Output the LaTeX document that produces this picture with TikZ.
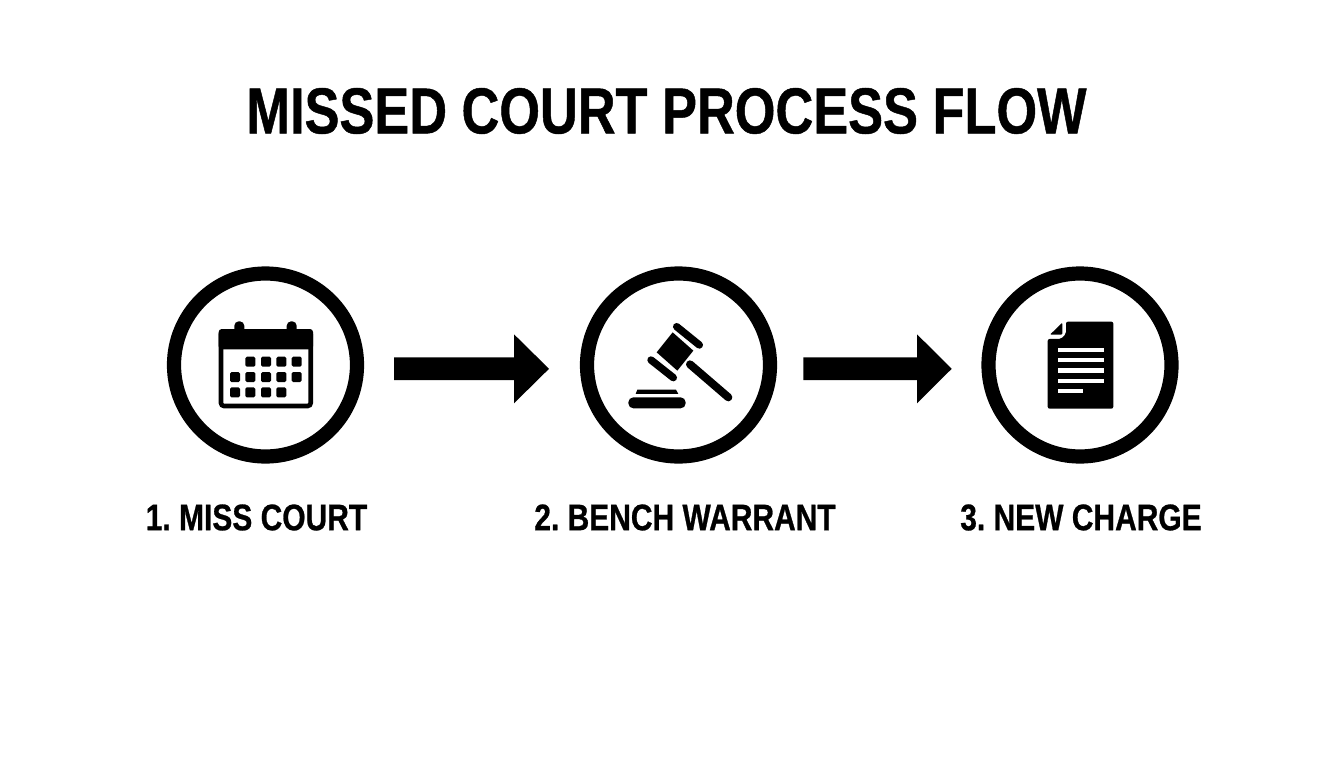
\documentclass[tikz,border=0pt]{standalone}
\usepackage{fontspec}
\setmainfont{Liberation Sans}
\newfontfamily\hd{Liberation Sans}[BoldFont={Liberation Sans Bold},BoldFeatures={FakeStretch=0.81,FakeBold=0.7}]
\newfontfamily\hdt{Liberation Sans}[BoldFont={Liberation Sans Bold},BoldFeatures={FakeStretch=0.805,FakeBold=0.7}]
\frenchspacing
\begin{document}
\begin{tikzpicture}[x=1pt,y=-1pt,
  ring/.style={circle,draw=black,line width=14.2pt,minimum size=183pt,inner sep=0pt},
  flowarrow/.style={fill=black},
  lab/.style={font=\hd\bfseries\fontsize{37}{40}\selectfont,text=black,inner sep=0pt},
  ttl/.style={font=\hdt\bfseries\fontsize{65}{68}\selectfont,text=black,inner sep=0pt}]
\useasboundingbox (0,0) rectangle (1344,768);
\fill[white] (0,0) rectangle (1344,768);
\node[ttl] (title) at (666.5,111) {MISSED COURT PROCESS FLOW};
\node[ring] (c1) at (265.5,365) {};
\node[ring] (c2) at (678.5,365) {};
\node[ring] (c3) at (1080,365) {};
\node[lab] (l1) at (256.5,517.5) {1. MISS COURT};
\node[lab] (l2) at (685,517.5) {2. BENCH WARRANT};
\node[lab] (l3) at (1081,517.5) {3. NEW CHARGE};
% arrows
\fill[flowarrow] (394,357.3) -- (514,357.3) -- (514,334.3) -- (549,368.8) -- (514,403.3) -- (514,380.2) -- (394,380.2) -- cycle;
\fill[flowarrow] (803.3,357.3) -- (917,357.3) -- (917,334.3) -- (951.7,368.8) -- (917,403.3) -- (917,380.2) -- (803.3,380.2) -- cycle;
% calendar
\draw[black,line width=4.6pt,rounded corners=3pt] (221,331.3) rectangle (310.7,406);
\fill[black,rounded corners=3pt] (218.7,329) -- (313,329) -- (313,349.3) -- (218.7,349.3) -- cycle;
\fill[black,rounded corners=4.5pt] (234.3,321.3) rectangle (244.3,335);
\fill[black,rounded corners=4.5pt] (286.7,321.3) rectangle (296.7,335);
\foreach \p in {250.3,266,281.3,296.7} \fill[black,rounded corners=1.5pt] (\p-5,356.7) rectangle (\p+5,366.7);
\foreach \p in {235,250.3,266,281.3,296.7} \fill[black,rounded corners=1.5pt] (\p-5,372) rectangle (\p+5,382);
\foreach \p in {235,250.3,266,281.3} \fill[black,rounded corners=1.5pt] (\p-5,387.3) rectangle (\p+5,397.3);
% gavel
\begin{scope}[shift={(640,315)},x=0.3333pt,y=-0.3333pt]
\draw[black,line width=7.4pt,line cap=round] (110,35) -- (178,90);
\draw[black,line width=7.4pt,line cap=round] (33,135) -- (100,188);
\fill[black] (98,52) -- (160,107) -- (112,167) -- (50,112) -- cycle;
\draw[black,line width=8pt,line cap=round] (150,148) -- (265,247);
\fill[black] (-13,237) -- (-8,224) -- (108,224) -- (115,237) -- cycle;
\fill[black,rounded corners=5pt] (-35,247) rectangle (137,280);
\end{scope}
% document
\begin{scope}[shift={(975,260)},x=0.3333pt,y=-0.3333pt]
\fill[black,rounded corners=2pt] (273,185) -- (415,185) -- (415,446) -- (218,446) -- (218,237) -- (258,237) -- (273,222) -- cycle;
\fill[black,rounded corners=1pt] (225,224) -- (262,188) -- (262,224) -- cycle;
\foreach \q in {270,301,332,363} \fill[white] (248,\q-6.5) rectangle (387,\q+6.5);
\fill[white] (248,387.5) rectangle (325,400.5);
\end{scope}
\end{tikzpicture}
\end{document}
